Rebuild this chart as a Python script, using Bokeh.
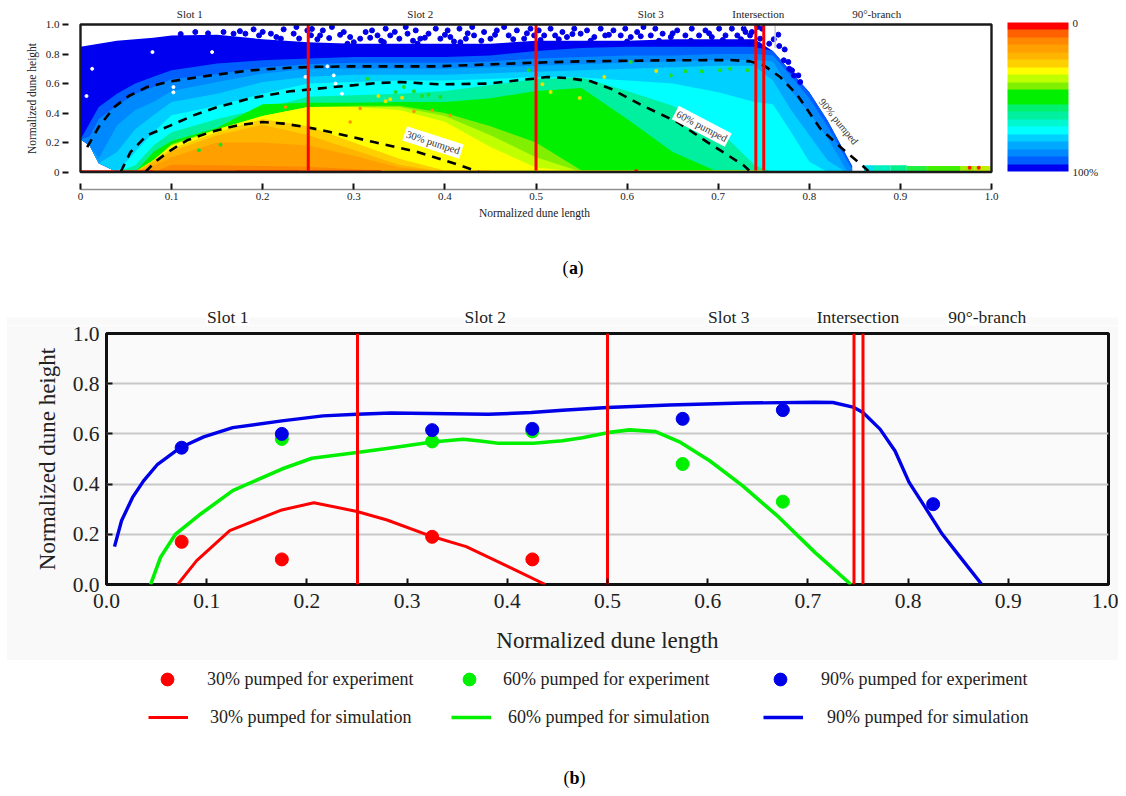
import math
from bokeh.plotting import figure
from bokeh.models import ColorBar, LinearColorMapper, FixedTicker, Label, Legend, LegendItem
from bokeh.core.properties import value
from bokeh.embed import file_html
from bokeh.resources import INLINE

FONT = "Liberation Serif"
INK = "#222222"

# ---------------- data: panel (a) ----------------
palette_0_to_100 = ["#ff0000", "#ff6000", "#ff8800", "#ffa000", "#ffb400", "#ffd000", "#ffff00",
                    "#c0ff00", "#80f000", "#00f000", "#00f000", "#00f070", "#00f0a0", "#00f8d0",
                    "#00ffff", "#00d0ff", "#00a8ff", "#0088ff", "#0060ff", "#0000f0"]

stations = [0, .01, .02, .04, .06, .08, .1, .15, .2, .25, .3, .35, .4, .45, .5, .55, .6, .65, .7, .74,
            .76, .78, .8, .82, .84, .847]
floor_edge = [.22, .18, .06, 0, 0, 0, 0, 0, 0, 0, 0, 0, 0, 0, 0, 0, 0, 0, 0, 0, 0, 0, 0, 0, 0, 0]
edge_00 = [.85, .86, .87, .89, .90, .91, .926, .93, .90, .88, .87, .87, .87, .87, .89, .89, .89, .90, .90, .90, .82, .68, .54, .35, .12, .04]
edge_05 = [.22, .33, .44, .53, .60, .645, .69, .735, .757, .77, .78, .78, .78, .79, .82, .84, .85, .85, .85, .85, .82, .68, .54, .35, .12, .04]
edge_10 = [.22, .24, .36, .45, .53, .575, .63, .665, .71, .73, .74, .74, .74, .75, .77, .78, .79, .79, .80, .80, .79, .65, .50, .31, .09, .02]
edge_15 = [.22, .18, .09, .316, .42, .475, .55, .61, .667, .70, .70, .70, .70, .71, .72, .73, .74, .75, .76, .76, .75, .55, .40, .23, .02, 0]
edge_20 = [.22, .18, .06, .135, .29, .385, .475, .53, .61, .645, .66, .66, .66, .67, .68, .69, .70, .71, .72, .72, .62, .42, .25, .08, 0, 0]
edge_25 = [.22, .18, .06, 0, .135, .27, .385, .45, .53, .60, .61, .62, .62, .63, .645, .64, .62, .60, .54, .475, .46, .27, .07, 0, 0, 0]
edge_30 = [.22, .18, .06, 0, .045, .18, .27, .36, .43, .51, .52, .53, .55, .59, .63, .64, .55, .45, .29, .045, 0, 0, 0, 0, 0, 0]
edge_35 = [.22, .18, .06, 0, 0, .135, .21, .30, .46, .47, .47, .475, .475, .50, .55, .57, .36, .135, 0, 0, 0, 0, 0, 0, 0, 0]
edge_40 = [.22, .18, .06, 0, 0, .08, .19, .29, .38, .44, .45, .45, .40, .31, .20, .01, 0, 0, 0, 0, 0, 0, 0, 0, 0, 0]
edge_45 = [.22, .18, .06, 0, 0, .08, .18, .29, .38, .44, .44, .44, .38, .25, .10, 0, 0, 0, 0, 0, 0, 0, 0, 0, 0, 0]
edge_50 = [.22, .18, .06, 0, 0, .08, .18, .29, .38, .44, .44, .42, .34, .17, .03, 0, 0, 0, 0, 0, 0, 0, 0, 0, 0, 0]
edge_55 = [.22, .18, .06, 0, 0, .08, .16, .27, .36, .31, .20, .09, .01, 0, 0, 0, 0, 0, 0, 0, 0, 0, 0, 0, 0, 0]
edge_60 = [.22, .18, .06, 0, 0, .07, .14, .25, .32, .25, .15, .05, 0, 0, 0, 0, 0, 0, 0, 0, 0, 0, 0, 0, 0, 0]
edge_65 = [.22, .18, .06, 0, 0, .04, .10, .20, .20, .18, .11, .03, 0, 0, 0, 0, 0, 0, 0, 0, 0, 0, 0, 0, 0, 0]
edge_70 = [.22, .18, .06, 0, 0, 0, .05, .045, .04, .035, .02, 0, 0, 0, 0, 0, 0, 0, 0, 0, 0, 0, 0, 0, 0, 0]
band_edges = [edge_00, edge_05, edge_10, edge_15, edge_20, edge_25, edge_30, edge_35, edge_40, edge_45,
              edge_50, edge_55, edge_60, edge_65, edge_70]
band_levels = [19, 18, 17, 16, 15, 14, 12, 10, 8, 7, 6, 5, 4, 3, 2]

base_left = [0, .08, .17, .24, .33, .45, .74]
base_right = [.08, .17, .24, .33, .45, .74, .75]
base_color = ["#ff1000", "#ff5000", "#ff2000", "#ff4000", "#ffb000", "#e8e000", "#ffe000"]
base_top = [.012, .012, .012, .012, .012, .012, .012]

tail_left = [.86, .871, .889, .907, .929, .966, .981]
tail_right = [.871, .889, .907, .929, .966, .981, .999]
tail_color = ["#00e0f0", "#00f0c0", "#00f090", "#20f040", "#40f000", "#a0f000", "#c0f000"]
tail_top = [.045, .045, .045, .04, .04, .04, .04]

speck_x = [.126, .157, .168, .181, .19, .196, .209, .223, .234, .237, .249, .22,
           .254, .253, .266, .263, .276, .273, .289, .296, .307, .313, .32, .326, .335, .34, .35, .357, .359, .368,
           .373, .382, .39, .395, .403, .406, .416, .423, .43, .432, .443, .45, .457, .465, .47, .479, .487, .494,
           .498, .293, .333, .37, .417,
           .503, .509, .516, .521, .529, .534, .542, .549, .556, .564, .571, .576, .585, .593, .598, .604, .611,
           .618, .626, .631, .639, .648, .655, .664, .671, .679, .686, .693, .701, .708, .715, .721, .728, .735,
           .73, .737, .743, .748, .746, .726, .734, .745, .766, .761, .756, .767, .773, .772, .777, .778, .781,
           .783, .788, .79,
           .26, .285, .30, .318, .33, .345, .365, .378, .40, .41, .425, .44, .455, .475, .49, .505, .525, .54, .56,
           .58, .60, .615, .635, .65, .67, .69, .705, .725, .14, .175, .20, .215, .24, .11]
speck_y = [.949, .949, .938, .938, .967, .926, .938, .967, .938, .983, .96, .904,
           .97, .927, .96, .926, .983, .908, .949, .915, .904, .949, .96, .926, .972, .926, .904, .983, .938, .96,
           .904, .938, .972, .904, .96, .915, .972, .904, .983, .926, .949, .904, .96, .983, .926, .96, .904, .972,
           .926, .87, .88, .87, .88,
           .96, .926, .972, .926, .949, .915, .972, .938, .96, .915, .972, .926, .96, .926, .972, .915, .949,
           .983, .926, .972, .938, .915, .96, .926, .972, .926, .96, .915, .972, .926, .972, .926, .972, .926,
           .949, .949, .983, .972, .904, .881, .87, .859, .931, .9, .87, .854, .831, .757, .746, .70, .689,
           .655, .655, .61,
           .90, .93, .88, .91, .89, .95, .89, .91, .93, .885, .94, .89, .93, .90, .94, .895, .90, .935, .89,
           .93, .885, .92, .89, .94, .89, .94, .895, .90, .94, .955, .95, .915, .905, .935]
white_x = [.0128, .0066, .102, .102, .1445, .079, .271, .28, .278, .247, .287]
white_y = [.70, .515, .576, .54, .813, .813, .716, .599, .655, .645, .531]
green_x = [.346, .355, .366, .375, .382, .395, .315, .492, .682, .702, .713, .732, .604, .664, .648, .1537, .13]
green_y = [.542, .576, .547, .515, .524, .508, .633, .689, .683, .689, .70, .689, .746, .683, .655, .185, .147]
gold_x = [.327, .34, .353, .335, .516, .575, .632, .507, .548, .93, .945, .965]
gold_y = [.515, .493, .504, .48, .542, .644, .685, .595, .502, .025, .025, .025]
orange_x = [.366, .307, .296, .386, .406, .225, .975]
orange_y = [.411, .43, .339, .418, .384, .44, .025]
red_dot_x = [.976, .986, .61]
red_dot_y = [.028, .028, .006]

dash30_x = [.071, .084, .099, .117, .143, .172, .2, .223, .25, .274, .322, .37, .417, .437]
dash30_y = [0, .079, .147, .215, .271, .316, .339, .328, .302, .271, .203, .136, .045, 0]
dash60_x = [.044, .055, .073, .099, .124, .15, .187, .23, .252, .278, .326, .351, .395, .446, .498, .512, .534,
            .56, .582, .618, .655, .688, .728, .734]
dash60_y = [0, .136, .249, .316, .384, .44, .50, .547, .56, .576, .603, .61, .594, .599, .633, .644, .637,
            .615, .565, .447, .339, .203, .045, .01]
dash90_x = [.0073, .02, .037, .053, .073, .099, .143, .187, .23, .252, .296, .388, .443, .498, .549, .64, .713,
            .735, .75, .768, .787, .812, .834, .856, .865]
dash90_y = [.169, .305, .44, .515, .576, .615, .655, .689, .707, .712, .716, .716, .728, .741, .75, .757, .759,
            .75, .723, .644, .52, .294, .17, .056, .005]

a_bounds = [.25, .5, .7413, .75]
a_stub_x = [.728, .7625]
a_stub_y = [.985, .84]

region_names_a = ["Slot 1", "Slot 2", "Slot 3", "Intersection", "90°-branch"]
region_x_a = [.12, .373, .626, .744, .874]
region_names_b = ["Slot 1", "Slot 2", "Slot 3", "Intersection", "90°-branch"]
region_x_b = [.121, .378, .621, .750, .879]

length_ticks = [0, .1, .2, .3, .4, .5, .6, .7, .8, .9, 1.0]
height_ticks = [0, .2, .4, .6, .8, 1.0]

# ---------------- data: panel (b) ----------------
exp30_x = [.075, .175, .325, .425]
exp30_y = [.17, .10, .19, .10]
exp60_x = [.175, .325, .425, .575, .675]
exp60_y = [.58, .57, .61, .48, .33]
exp90_x = [.075, .175, .325, .425, .575, .675, .825]
exp90_y = [.545, .60, .615, .62, .66, .695, .32]

sim30_x = [.071, .09, .123, .175, .207, .25, .28, .325, .359, .402, .438]
sim30_y = [0, .095, .215, .297, .326, .291, .257, .191, .151, .069, 0]
sim60_x = [.044, .054, .069, .094, .126, .175, .205, .25, .287, .325, .356, .373, .391, .426, .455, .475, .5,
           .522, .548, .573, .602, .635, .671, .707, .743]
sim60_y = [0, .109, .201, .281, .374, .46, .503, .526, .546, .568, .579, .572, .563, .563, .573, .585, .605,
           .616, .609, .566, .493, .393, .268, .128, 0]
sim90_x = [.008, .015, .026, .037, .051, .074, .097, .126, .175, .216, .25, .284, .323, .381, .424, .455, .5,
           .562, .635, .707, .725, .745, .755, .772, .787, .801, .816, .834, .852, .873]
sim90_y = [.151, .254, .347, .413, .479, .546, .588, .625, .652, .672, .678, .683, .681, .678, .685, .694, .705,
           .715, .723, .726, .725, .707, .685, .619, .532, .407, .314, .201, .109, .003]
b_bounds = [.2505, .5, .746, .755]

COL30, COL60, COL90 = "#ff0000", "#00f000", "#0000e8"


def strip_figure(width, height, left_margin, x_range, y_range):
    f = figure(width=width, height=height, output_backend="svg", toolbar_location=None,
               margin=(0, 0, 0, left_margin), x_range=x_range, y_range=y_range,
               min_border=0, outline_line_color=None)
    f.xaxis.visible = False
    f.yaxis.visible = False
    f.grid.visible = False
    return f


def add_caption(fig, letter, xs, y):
    for t, style, px in zip(["(", letter, ")"], ["normal", "bold", "normal"], xs):
        fig.add_layout(Label(x=px, y=y, x_units="screen", y_units="screen", text=t, text_align="center",
                             text_baseline="middle", text_font=FONT, text_font_size="18px",
                             text_font_style=style, text_color="black"))


# ---------------- panel (a) ----------------
def ax(px):   # page pixel -> panel (a) length
    return (px - 80) / 911


def ay(py):   # page pixel -> panel (a) height
    return (171.5 - py) / 147.5


pa = figure(width=1126, height=224, output_backend="svg", toolbar_location=None,
            x_range=(ax(68), ax(1000)), y_range=(ay(189), ay(7)),
            min_border_left=68, min_border_right=126, min_border_top=7, min_border_bottom=35)
pa.grid.visible = False
pa.outline_line_color = None
pa.background_fill_color = "white"

for edge, lvl in zip(band_edges, band_levels):
    pa.varea(x=stations, y1=floor_edge, y2=edge, fill_color=palette_0_to_100[lvl])
pa.scatter(speck_x, speck_y, size=5, color="#0000e8")
pa.scatter(white_x, white_y, size=3, color="white")
pa.scatter(green_x, green_y, size=4, color="#20e020", line_color=None)
pa.scatter(gold_x, gold_y, size=4, color="#e8e000", line_color=None)
pa.scatter(orange_x, orange_y, size=3.5, color="#ff9000", line_color=None)
pa.quad(left=base_left, right=base_right, bottom=0, top=base_top, fill_color=base_color, line_color=None)
pa.quad(left=tail_left, right=tail_right, bottom=0, top=tail_top, fill_color=tail_color, line_color=None)
pa.scatter(red_dot_x, red_dot_y, size=4, color="#ff2000", line_color=None)

pa.line(dash30_x, dash30_y, line_color="black", line_width=2.6, line_dash="9 7")
pa.line(dash60_x, dash60_y, line_color="black", line_width=2.6, line_dash="9 7")
pa.line(dash90_x, dash90_y, line_color="black", line_width=2.6, line_dash="9 7")
pa.segment(x0=a_stub_x, x1=a_stub_x, y0=[.99, .99], y1=a_stub_y, line_color="#c8c8c8", line_width=1.5)
pa.segment(x0=a_bounds, x1=a_bounds, y0=[.01] * 4, y1=[1.0] * 4, line_color="#ff0000", line_width=3)
pa.quad(left=[0], right=[1], bottom=[0], top=[1], fill_color=None, line_color="#1a1a1a", line_width=2.4)

for ang, txt, x, y, bg in [(-18, "30% pumped", .387, .20, "white"),
                           (-27.5, "60% pumped", .682, .31, "white"),
                           (-51, "90% pumped", .832, .342, None)]:
    pa.add_layout(Label(x=x, y=y, text=txt, angle=math.radians(ang), text_align="center",
                        text_baseline="middle", text_font=FONT, text_font_size="10.5px",
                        text_color="#333333", background_fill_color=bg, padding=2))
for name, x in zip(region_names_a, region_x_a):
    pa.add_layout(Label(x=x, y=ay(13), text=name, text_align="center", text_baseline="middle",
                        text_font=FONT, text_font_size="11px", text_color=INK))

pa.xaxis.ticker = FixedTicker(ticks=length_ticks)
pa.xaxis.bounds = (0, 1)
pa.xaxis.major_label_overrides = {0: "0", 1: "1.0"}
pa.xaxis.axis_line_color = "#909090"
pa.xaxis.axis_line_width = 1.5
pa.xaxis.major_tick_in = 6
pa.xaxis.major_tick_out = 0
pa.xaxis.major_tick_line_color = "#111111"
pa.xaxis.major_tick_line_width = 2
pa.xaxis.minor_tick_line_color = None
pa.xaxis.major_label_standoff = 3
pa.xaxis.major_label_text_font = FONT
pa.xaxis.major_label_text_font_size = "11px"
pa.xaxis.major_label_text_color = INK
pa.xaxis.axis_label = "Normalized dune length"
pa.xaxis.axis_label_text_font = FONT
pa.xaxis.axis_label_text_font_style = "normal"
pa.xaxis.axis_label_text_font_size = "11.5px"
pa.xaxis.axis_label_text_color = INK
pa.xaxis.axis_label_standoff = 4

pa.yaxis.ticker = FixedTicker(ticks=height_ticks)
pa.yaxis.bounds = (0, 1)
pa.yaxis.major_label_overrides = {0: "0", 1: "1.0"}
pa.yaxis.axis_line_color = None
pa.yaxis.major_tick_in = 0
pa.yaxis.major_tick_out = 6
pa.yaxis.major_tick_line_color = "#111111"
pa.yaxis.major_tick_line_width = 2
pa.yaxis.minor_tick_line_color = None
pa.yaxis.major_label_standoff = 3
pa.yaxis.major_label_text_font = FONT
pa.yaxis.major_label_text_font_size = "11px"
pa.yaxis.major_label_text_color = INK
pa.yaxis.axis_label = "Normalized dune height"
pa.yaxis.axis_label_text_font = FONT
pa.yaxis.axis_label_text_font_style = "normal"
pa.yaxis.axis_label_text_font_size = "11.5px"
pa.yaxis.axis_label_text_color = INK
pa.yaxis.axis_label_standoff = 5

mapper = LinearColorMapper(palette=list(reversed(palette_0_to_100)), low=0, high=100)
cbar = ColorBar(color_mapper=mapper, location=(7, 18), width=61, height=149, padding=0, margin=0,
                ticker=FixedTicker(ticks=[0, 100]), major_label_overrides={0: "100%", 100: "0"},
                major_tick_line_color=None, minor_tick_line_color=None, bar_line_color=None,
                background_fill_color=None, border_line_color=None, label_standoff=4,
                major_label_text_font=FONT, major_label_text_font_size="11px", major_label_text_color=INK)
pa.add_layout(cbar, "right")

cap_a = strip_figure(1126, 80, 0, (2, 3), (2, 3))
add_caption(cap_a, "a", [565, 573, 580], 304 - 267)


# ---------------- panel (b) ----------------
def bx(px):
    return (px - 106) / 1002


def by(py):
    return (584 - py) / 251


strip_b = strip_figure(1112, 21, 6, (bx(6), bx(1118)), (by(325), by(304)))
strip_b.background_fill_color = "white"
strip_b.quad(left=[bx(6)], right=[bx(1118)], bottom=[by(325)], top=[by(317)], fill_color="#f9f9f9", line_color=None)
for name, x in zip(region_names_b, region_x_b):
    strip_b.add_layout(Label(x=x, y=by(316), text=name, text_align="center", text_baseline="middle",
                             text_font=FONT, text_font_size="17.5px", text_color=INK,
                             background_fill_color="white", padding=1))

pb = figure(width=1112, height=335, output_backend="svg", toolbar_location=None, margin=(0, 0, 0, 6),
            x_range=(0, 1), y_range=(0, 1),
            min_border_left=100, min_border_right=10, min_border_top=8, min_border_bottom=76)
pb.border_fill_color = "#f9f9f9"
pb.background_fill_color = "#fafafa"
pb.outline_line_color = "#111111"
pb.outline_line_width = 3
pb.xgrid.visible = False
pb.ygrid.ticker = FixedTicker(ticks=[.2, .4, .6, .8])
pb.ygrid.grid_line_color = "#c8c8c8"
pb.ygrid.grid_line_width = 2

pb.line(sim30_x, sim30_y, line_color=COL30, line_width=3, line_join="round")
pb.line(sim60_x, sim60_y, line_color=COL60, line_width=3.6, line_join="round")
pb.line(sim90_x, sim90_y, line_color=COL90, line_width=3.4, line_join="round")
pb.segment(x0=b_bounds, x1=b_bounds, y0=[0] * 4, y1=[1.0] * 4, line_color="#ff0000", line_width=3)
pb.scatter(exp60_x, exp60_y, size=13, color=COL60)
pb.scatter(exp30_x, exp30_y, size=13, color=COL30)
pb.scatter(exp90_x, exp90_y, size=13, color=COL90)

for axis_obj, ticks in [(pb.xaxis, length_ticks), (pb.yaxis, height_ticks)]:
    axis_obj.ticker = FixedTicker(ticks=ticks)
    axis_obj.axis_line_color = None
    axis_obj.major_tick_in = 6
    axis_obj.major_tick_out = 0
    axis_obj.major_tick_line_color = "#111111"
    axis_obj.major_tick_line_width = 2
    axis_obj.minor_tick_line_color = None
    axis_obj.major_label_text_font = FONT
    axis_obj.major_label_text_font_size = "21.5px"
    axis_obj.major_label_text_color = INK
    axis_obj.axis_label_text_font = FONT
    axis_obj.axis_label_text_font_style = "normal"
    axis_obj.axis_label_text_font_size = "23px"
    axis_obj.axis_label_text_color = INK
pb.xaxis.major_label_overrides = {0: "0.0", 1: "1.0"}
pb.yaxis.major_label_overrides = {0: "0.0", 1: "1.0"}
pb.xaxis.axis_label = "Normalized dune length"
pb.yaxis.axis_label = "Normalized dune height"
pb.xaxis.major_label_standoff = 9
pb.xaxis.axis_label_standoff = 17
pb.yaxis.major_label_standoff = 7
pb.yaxis.axis_label_standoff = 10

# ---------------- legend strip and caption (b) ----------------
pc = strip_figure(1126, 136, 0, (2, 3), (2, 3))
r_e30 = pc.scatter(exp30_x, exp30_y, size=13, color=COL30)
r_e60 = pc.scatter(exp60_x, exp60_y, size=13, color=COL60)
r_e90 = pc.scatter(exp90_x, exp90_y, size=13, color=COL90)
r_s30 = pc.line(sim30_x, sim30_y, line_color=COL30, line_width=3)
r_s60 = pc.line(sim60_x, sim60_y, line_color=COL60, line_width=3.6)
r_s90 = pc.line(sim90_x, sim90_y, line_color=COL90, line_width=3.4)

legend_rows = [
    ("30% pumped for experiment", r_e30, 147, 679, 20),
    ("60% pumped for experiment", r_e60, 449, 679, 14),
    ("90% pumped for experiment", r_e90, 760, 679, 21),
    ("30% pumped for simulation", r_s30, 148, 717, 22),
    ("60% pumped for simulation", r_s60, 451, 717, 17),
    ("90% pumped for simulation", r_s90, 763, 717, 24),
]
for label, rend, px, py, gap in legend_rows:
    pc.add_layout(Legend(items=[LegendItem(label=value(label), renderers=[rend])],
                         location=(px, 796 - py - 16), padding=0, margin=0, spacing=0,
                         glyph_width=40, glyph_height=32, label_height=32, label_standoff=gap,
                         background_fill_color=None, border_line_color=None,
                         label_text_font=FONT, label_text_font_size="18px", label_text_color=INK))
add_caption(pc, "b", [566, 574, 582], 796 - 777)

open("out.html", "w").write(file_html([pa, cap_a, strip_b, pb, pc], INLINE))
